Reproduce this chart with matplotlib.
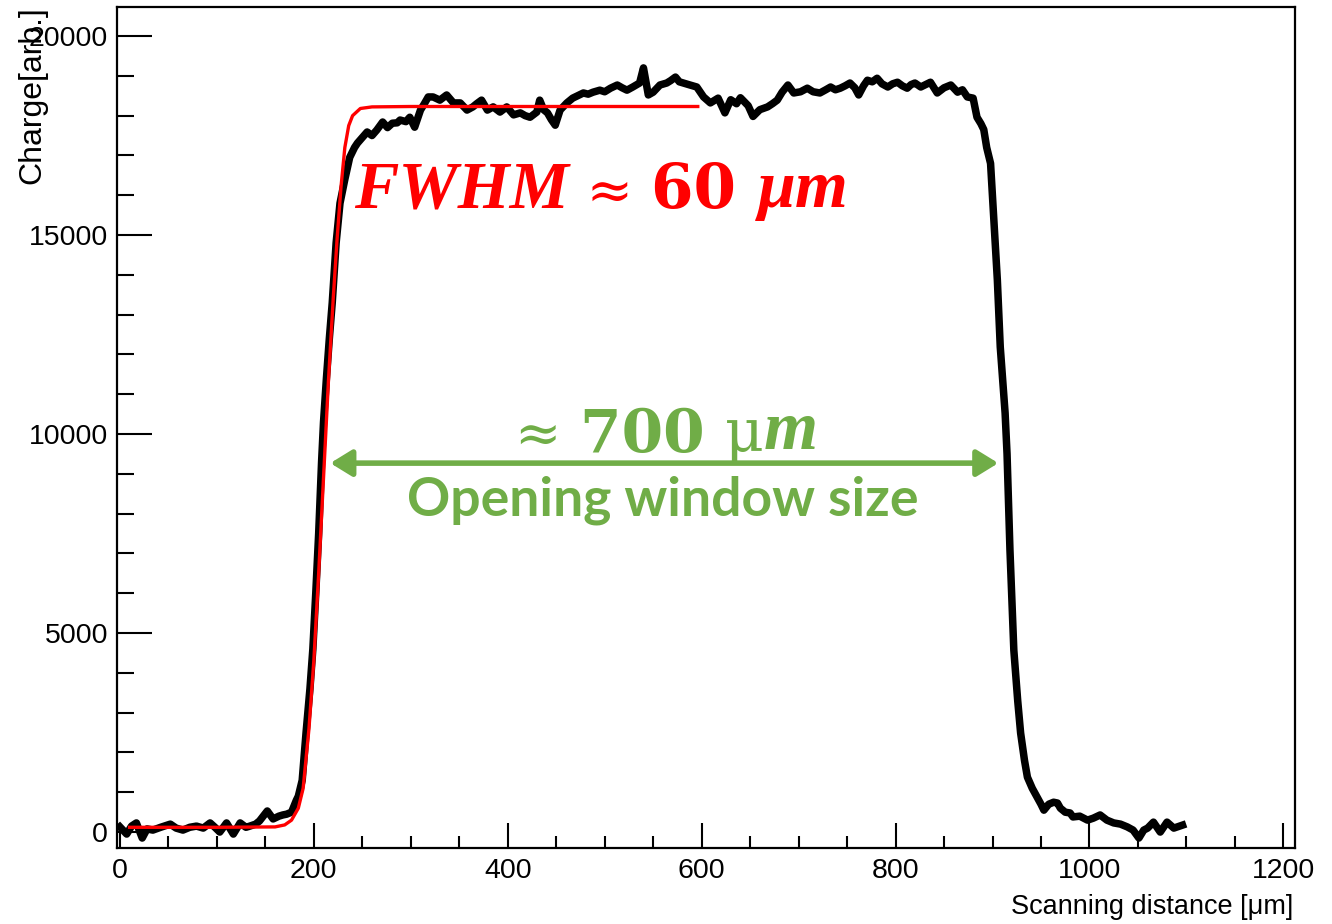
import numpy as np
import matplotlib.pyplot as plt
from matplotlib.ticker import MultipleLocator

# charge vs scanning distance
scan_x = [0, 7, 12, 17, 23, 28, 34, 42, 52, 58, 65, 72, 79, 86, 93, 98, 103, 110, 117, 124,
          130, 134, 140, 144, 152, 158, 164, 168, 172, 177, 182, 184, 188, 192, 196, 199, 202, 205, 208, 210,
          213, 216, 219, 223, 227, 232, 237, 242, 245, 250, 255, 260, 265, 271, 276, 281, 286, 289, 295, 299,
          304, 310, 314, 318, 323, 330, 337, 344, 351, 358, 364, 368, 373, 379, 385, 392, 399, 406, 413, 418,
          423, 430, 433, 437, 441, 445, 449, 454, 461, 467, 472, 478, 483, 488, 495, 500, 506, 513, 518, 523,
          529, 536, 540, 545, 550, 557, 564, 568, 573, 577, 581, 588, 595, 602, 609, 617, 624, 630, 636, 640,
          648, 653, 660, 668, 673, 678, 683, 689, 695, 702, 709, 715, 722, 728, 733, 738, 743, 748, 753, 758,
          762, 767, 771, 776, 781, 786, 792, 797, 802, 807, 812, 816, 820, 826, 831, 836, 843, 850, 857, 864,
          869, 874, 880, 884, 888, 891, 894, 898, 901, 905, 908, 913, 915, 918, 922, 926, 929, 933, 936, 941,
          946, 950, 953, 958, 963, 967, 970, 975, 980, 983, 990, 998, 1004, 1011, 1018, 1025, 1032, 1039, 1045, 1051,
          1056, 1060, 1066, 1073, 1080, 1087, 1096]
charge = [130, -50, 150, 230, -150, 80, 50, 120, 200, 100, 50, 120, 150, 100, 230, 120, 0, 230, -50, 230,
          120, 150, 200, 280, 530, 330, 400, 430, 450, 500, 800, 900, 1300, 2500, 3600, 4600, 6000, 7500, 9300, 10300,
          11400, 12400, 13300, 14800, 15800, 16400, 16950, 17200, 17310, 17450, 17590, 17500, 17640, 17840, 17700, 17810, 17820, 17890, 17850, 17960,
          17710, 18140, 18300, 18470, 18470, 18390, 18520, 18320, 18320, 18140, 18220, 18300, 18390, 18140, 18220, 18090, 18220, 18020, 18070, 18000,
          17960, 18090, 18390, 18150, 18070, 17900, 17760, 18140, 18320, 18440, 18500, 18570, 18540, 18590, 18640, 18600, 18690, 18770, 18700, 18640,
          18720, 18820, 19200, 18520, 18590, 18770, 18820, 18880, 18970, 18850, 18820, 18770, 18720, 18470, 18320, 18440, 18070, 18400, 18300, 18450,
          18250, 17980, 18150, 18220, 18300, 18390, 18590, 18770, 18570, 18600, 18690, 18600, 18570, 18650, 18720, 18650, 18690, 18750, 18820, 18700,
          18520, 18750, 18890, 18850, 18940, 18800, 18720, 18800, 18840, 18750, 18690, 18780, 18820, 18720, 18780, 18840, 18570, 18700, 18770, 18590,
          18650, 18470, 18440, 17960, 17800, 17650, 17200, 16800, 15550, 13870, 12190, 10530, 9500, 7090, 4570, 3300, 2490, 1800, 1380, 1100,
          880, 700, 550, 700, 750, 730, 600, 500, 480, 380, 400, 300, 350, 430, 300, 230, 200, 130, 50, -150,
          50, 100, 250, 0, 250, 100, 175]

# fitted edge (red)
fit_x = [10, 100, 160, 170, 177, 184, 189, 195, 200, 205, 210, 215, 220, 224, 228, 232, 236, 240, 248, 260, 300, 596]
fit_y = [120, 120, 130, 180, 300, 600, 1100, 2600, 4300, 6500, 8900, 11300, 13400, 14900, 16200, 17200, 17750, 18000, 18180, 18220, 18230, 18230]

window_edges = [217, 906]
window_level = 9270

RED = '#ff0000'
GREEN = '#70ad47'
SANS = ['Liberation Sans', 'DejaVu Sans']

fig = plt.figure(figsize=(13.32, 9.24), dpi=100)
ax = fig.add_axes([117 / 1332, 76 / 924, 1178 / 1332, 841 / 924])

ax.plot(scan_x, charge, color='black', lw=5.4, solid_joinstyle='round', zorder=2)
ax.plot(fit_x, fit_y, color=RED, lw=2.4, zorder=3)

ax.set_xlim(-3, 1212)
ax.set_ylim(-400, 20730)
ax.xaxis.set_major_locator(MultipleLocator(200))
ax.xaxis.set_minor_locator(MultipleLocator(50))
ax.yaxis.set_major_locator(MultipleLocator(5000))
ax.yaxis.set_minor_locator(MultipleLocator(1000))

ax.tick_params(axis='both', which='both', direction='in', width=1.5, colors='black',
               top=False, right=False)
ax.tick_params(axis='y', which='major', length=25, pad=6.5)
ax.tick_params(axis='y', which='minor', length=12)
ax.tick_params(axis='x', which='major', length=18, pad=7)
ax.tick_params(axis='x', which='minor', length=8.5)
for lab in ax.get_xticklabels() + ax.get_yticklabels():
    lab.set_family(SANS)
    lab.set_fontsize(20.5)
for sp in ax.spines.values():
    sp.set_linewidth(1.6)

fig.text(1293 / 1332, 1 - 914 / 924, 'Scanning distance [\u03bcm]', family=SANS, fontsize=19.5,
         ha='right', va='baseline')
fig.text(32 / 1332, 1 - 6 / 924, 'Charge[arb.]', family=SANS,
         fontsize=23, rotation=90, ha='center', va='top')


def chain(pieces, x, y, color):
    # draw text pieces one after the other on a common line
    prev = None
    for s, kw in pieces:
        if prev is None:
            prev = ax.text(x, y, s, color=color, ha='left', va='baseline', **kw)
        else:
            prev = ax.annotate(s, xy=(1, 0), xycoords=prev, ha='left', va='bottom',
                               color=color, **kw)
    return prev


chain([('FWHM', dict(family='Liberation Serif', style='italic', weight='bold', fontsize=48)),
       (' \u2248 ', dict(family='DejaVu Serif', fontsize=40)),
       ('60 ', dict(family='DejaVu Serif', weight='bold', fontsize=44)),
       ('\u03bcm', dict(family='Liberation Serif', style='italic', weight='bold', fontsize=49))],
      242, 15700, RED)

chain([('\u2248 ', dict(family='DejaVu Serif', fontsize=40)),
       ('700 ', dict(family='DejaVu Serif', weight='bold', fontsize=43)),
       ('\u03bc', dict(family='DejaVu Serif', fontsize=43)),
       ('m', dict(family='Liberation Serif', style='italic', weight='bold', fontsize=50))],
      408, 9550, GREEN)

ax.text(560, 7965, 'Opening window size', color=GREEN, family=['Lato', 'DejaVu Sans'],
        weight='bold', fontsize=38.5, ha='center', va='baseline')

ax.annotate('', xy=(window_edges[0], window_level), xytext=(window_edges[1], window_level),
            arrowprops=dict(arrowstyle='<|-|>,head_length=0.65,head_width=0.4', color=GREEN,
                            lw=4, mutation_scale=20, shrinkA=0, shrinkB=0))

fig.savefig('out.png', dpi=100)
